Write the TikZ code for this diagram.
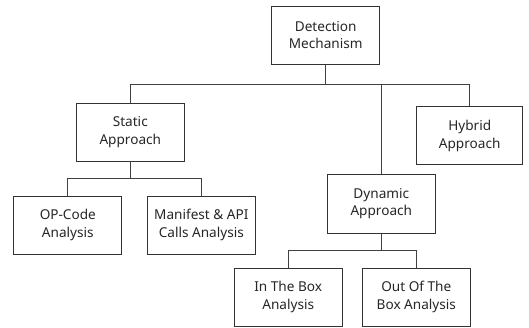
\documentclass[tikz,border=0pt]{standalone}
\usepackage{fontspec}
\setmainfont{Noto Sans}
\begin{document}
\begin{tikzpicture}[x=1pt,y=-1pt,
  box/.style={draw=black!80,line width=0.8pt,minimum width=108pt,minimum height=58pt,align=center,font=\fontsize{13.6}{17.6}\selectfont,text=black!85,inner sep=0pt},
  conn/.style={draw=black!75,line width=0.7pt}]
\useasboundingbox (0,0) rectangle (529,327);
\node[box] (dm) at (325.7,35.2) {Detection\\Mechanism};
\node[box] (sa) at (130.3,132) {Static\\Approach};
\node[box,minimum width=106pt] (ha) at (469.7,135.8) {Hybrid\\Approach};
\node[box,minimum height=59pt] (da) at (381.3,203.8) {Dynamic\\Approach};
\node[box] (op) at (67.8,225.2) {OP-Code\\Analysis};
\node[box] (ma) at (201.3,225.2) {Manifest \& API\\Calls Analysis};
\node[box] (ib) at (288.2,297.2) {In The Box\\Analysis};
\node[box] (ob) at (416.3,296.9) {Out Of The\\Box Analysis};
\coordinate (b1) at (0,84.3);
\coordinate (b2) at (0,178.3);
\coordinate (b3) at (0,250.7);
\draw[conn] (dm.south) -- (dm.south |- b1);
\draw[conn] (sa.north) -- (sa.north |- b1) -- (ha.north |- b1) -- (ha.north);
\draw[conn] (da.north) -- (da.north |- b1);
\draw[conn] (sa.south) -- (sa.south |- b2);
\draw[conn] (op.north) -- (op.north |- b2) -- (ma.north |- b2) -- (ma.north);
\draw[conn] (da.south) -- (da.south |- b3);
\draw[conn] (ib.north) -- (ib.north |- b3) -- (ob.north |- b3) -- (ob.north);
\end{tikzpicture}
\end{document}
